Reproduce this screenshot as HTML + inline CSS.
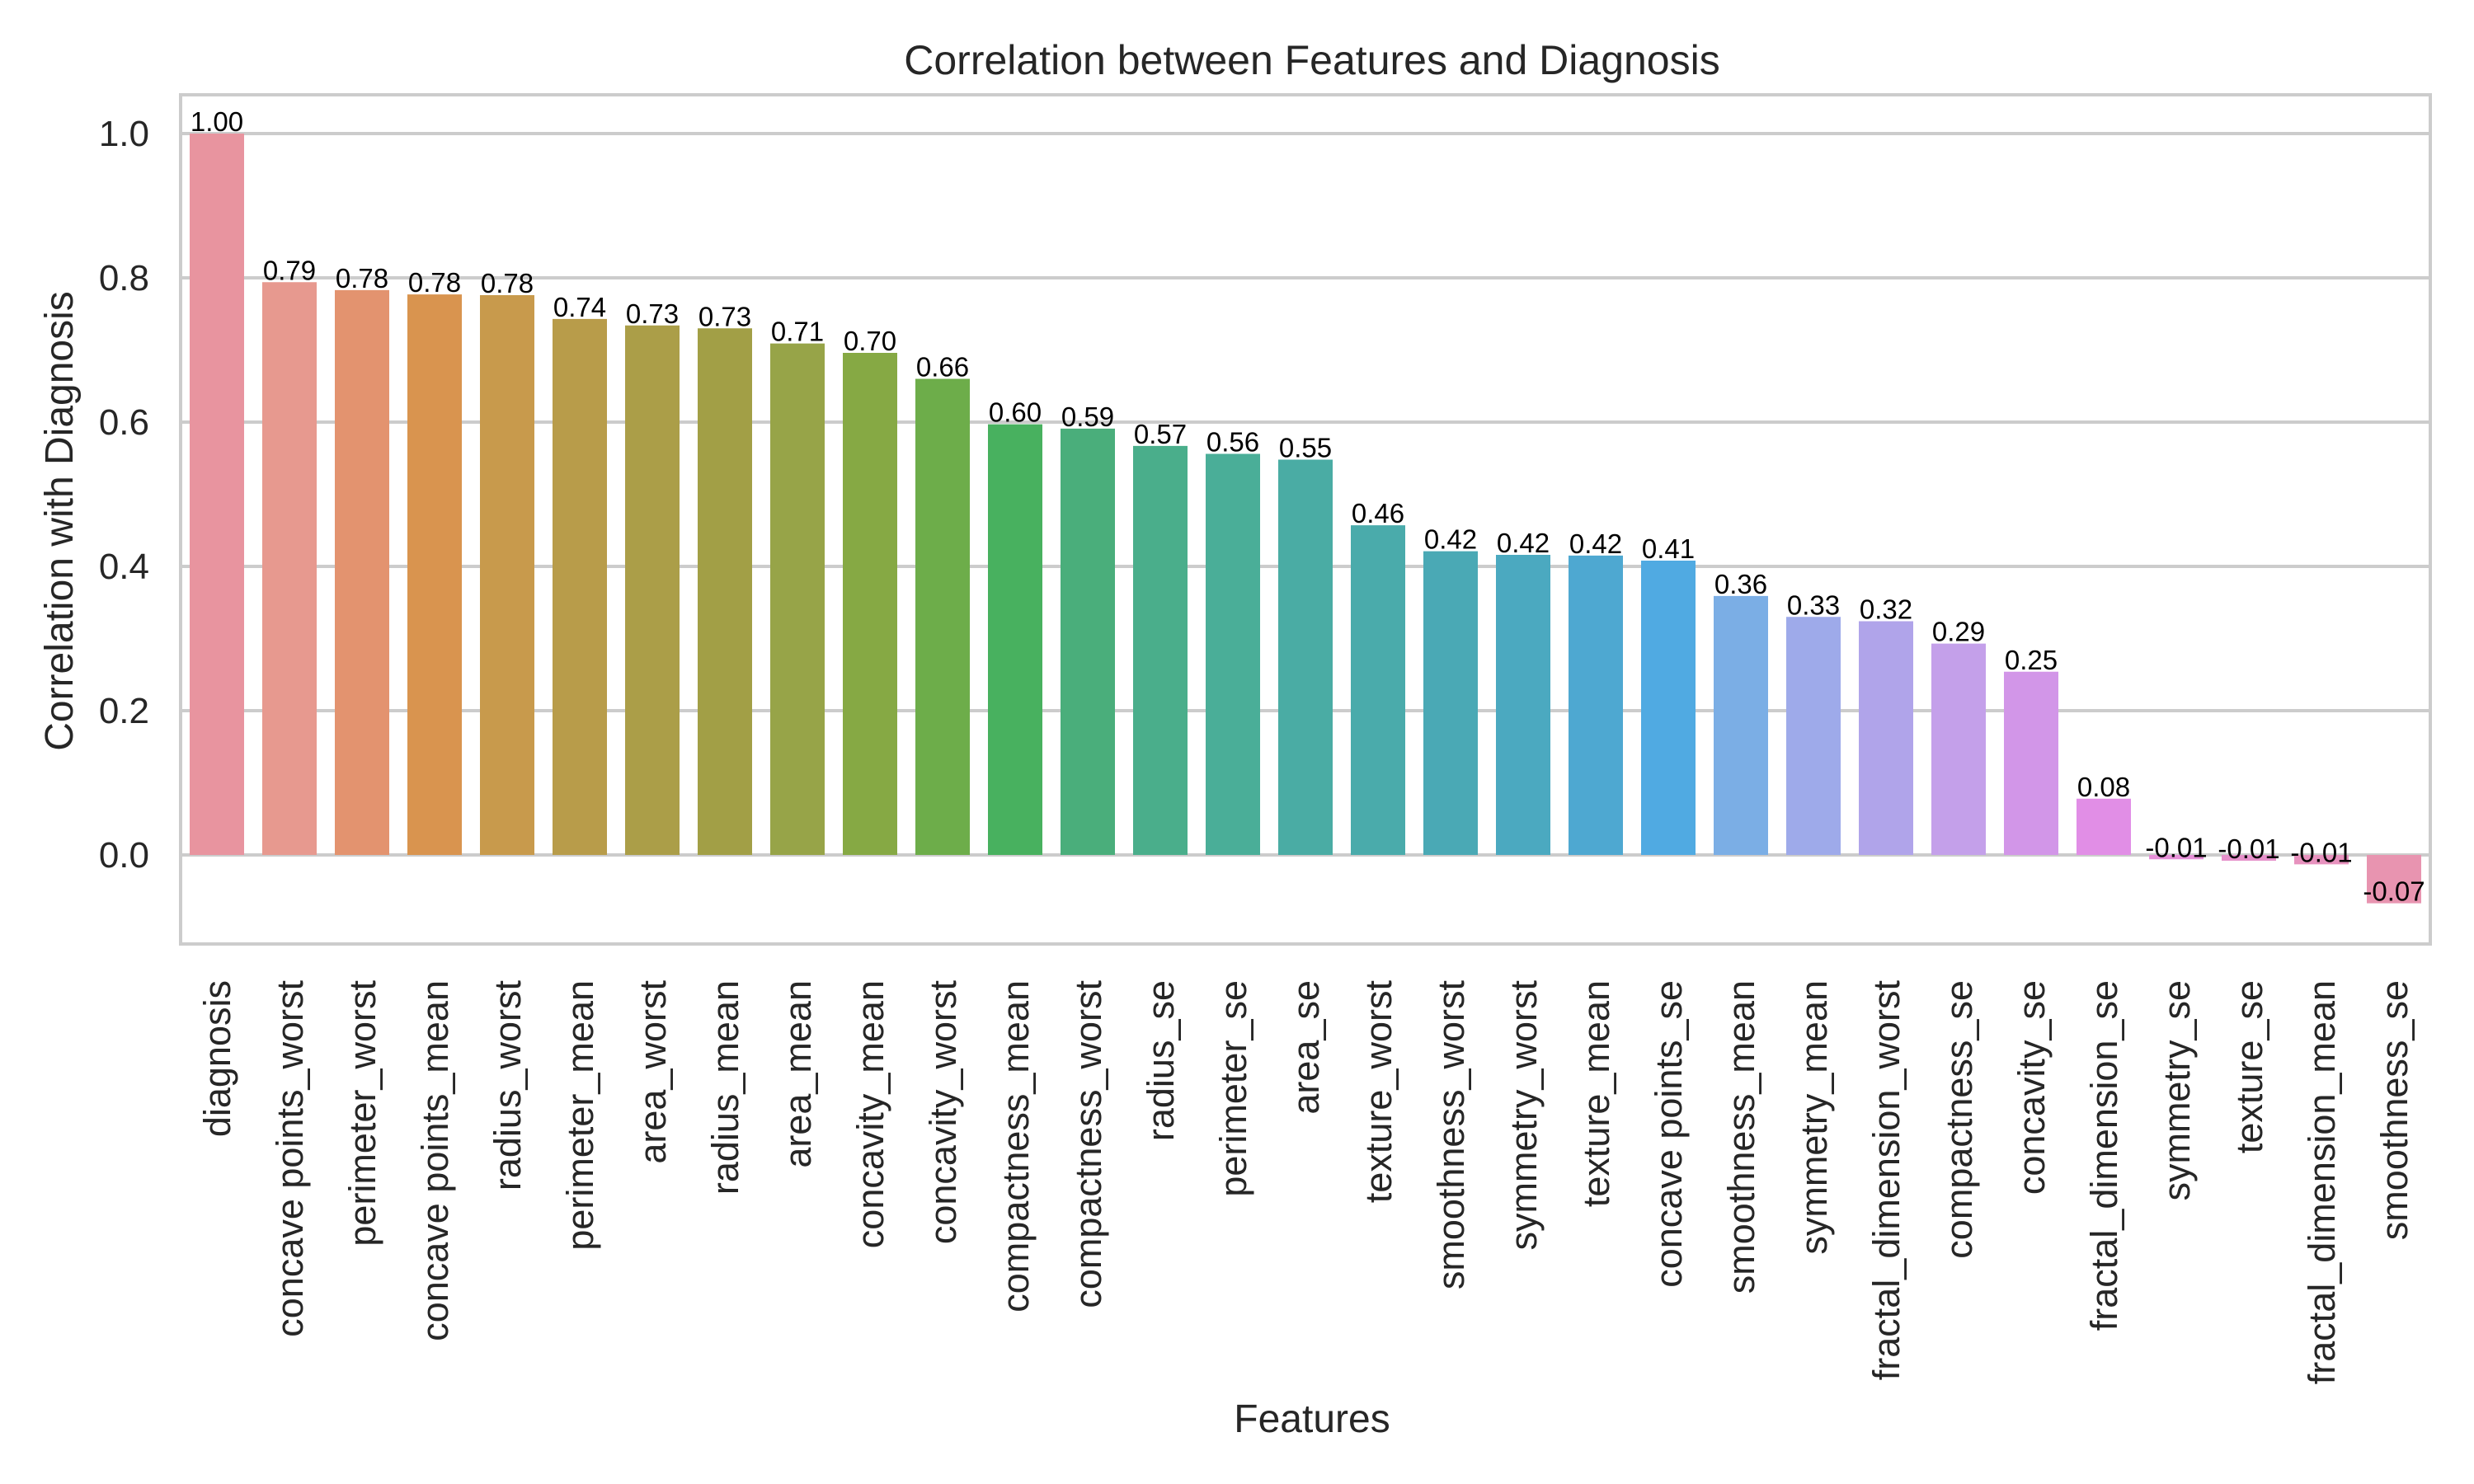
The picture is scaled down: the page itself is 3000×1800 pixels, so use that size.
<!DOCTYPE html>
<html><head><meta charset="utf-8"><style>
html,body{margin:0;padding:0;background:#fff;}
svg{display:block;font-family:"Liberation Sans",Arial,sans-serif;}
</style></head><body>
<svg id="chart" width="3000" height="1800" viewBox="0 0 3000 1800" xmlns="http://www.w3.org/2000/svg">
<rect x="0" y="0" width="3000" height="1800" fill="#fff"/>
<g id="grid"></g>
<g id="bars"></g>
<g id="annots"></g>
<rect x="219" y="115" width="2728" height="1030" fill="none" stroke="#cccccc" stroke-width="4"/>
<g id="yticks"></g>
<g id="xticks"></g>
<text x="1591" y="90" font-size="50" fill="#262626" text-anchor="middle">Correlation between Features and Diagnosis</text>
<text x="1591" y="1737" font-size="48" fill="#262626" text-anchor="middle">Features</text>
<text transform="translate(88,632) rotate(-90)" font-size="48" fill="#262626" text-anchor="middle">Correlation with Diagnosis</text>
</svg>
<script>
const categories = ["diagnosis","concave points_worst","perimeter_worst","concave points_mean","radius_worst","perimeter_mean","area_worst","radius_mean","area_mean","concavity_mean","concavity_worst","compactness_mean","compactness_worst","radius_se","perimeter_se","area_se","texture_worst","smoothness_worst","symmetry_worst","texture_mean","concave points_se","smoothness_mean","symmetry_mean","fractal_dimension_worst","compactness_se","concavity_se","fractal_dimension_se","symmetry_se","texture_se","fractal_dimension_mean","smoothness_se"];
const values = [1.00,0.794,0.783,0.777,0.776,0.743,0.734,0.730,0.709,0.696,0.660,0.597,0.591,0.567,0.556,0.548,0.457,0.421,0.416,0.415,0.408,0.359,0.330,0.324,0.293,0.254,0.078,-0.006,-0.008,-0.013,-0.067];
const valueLabels = ["1.00","0.79","0.78","0.78","0.78","0.74","0.73","0.73","0.71","0.70","0.66","0.60","0.59","0.57","0.56","0.55","0.46","0.42","0.42","0.42","0.41","0.36","0.33","0.32","0.29","0.25","0.08","-0.01","-0.01","-0.01","-0.07"];
const colors = ["#e8949f","#e7998f","#e3936f","#d9944f","#c89a4c","#b89c4a","#ab9e48","#a29f46","#97a448","#86a944","#6dad4a","#48b15f","#4aae7b","#4aae8b","#4aae98","#4aaca4","#4aabab","#4aa9b5","#4ba9c0","#4ea8d1","#50aae2","#7baee5","#9eaaea","#b0a4ea","#c4a0ea","#d296e8","#e18ee6","#e690d8","#e690ca","#e792be","#e894b0"];
const yTicks = [0.0,0.2,0.4,0.6,0.8,1.0];
const yTickLabels = ["0.0","0.2","0.4","0.6","0.8","1.0"];

const NS = "http://www.w3.org/2000/svg";
const X0 = 219, X1 = 2947, Y0PX = 1037, PXPER = 875;
const band = (X1 - X0) / categories.length;
function xCenter(i){ return X0 + (i + 0.5) * band; }
function yScale(v){ return Y0PX - v * PXPER; }
function mk(tag, attrs, parent){ const e = document.createElementNS(NS, tag); for (const k in attrs) e.setAttribute(k, attrs[k]); parent.appendChild(e); return e; }

const grid = document.getElementById('grid');
const yt = document.getElementById('yticks');
yTicks.forEach((t, i) => {
  const y = yScale(t);
  const l = mk('line', {x1: X0, x2: X1, y1: y, y2: y, stroke: '#cccccc', 'stroke-width': 4}, grid);
  
  
  const tx = mk('text', {x: 181, y: y + 15, 'font-size': 44, fill: '#262626', 'text-anchor': 'end'}, yt);
  tx.textContent = yTickLabels[i];
  
  
});

const bars = document.getElementById('bars');
const ann = document.getElementById('annots');
const xt = document.getElementById('xticks');
const bw = band * 0.75;
categories.forEach((c, i) => {
  const v = values[i];
  const cx = xCenter(i);
  const yTop = Math.min(yScale(v), yScale(0));
  const h = Math.abs(yScale(v) - yScale(0));
  const r = mk('rect', {x: cx - bw/2, y: yTop, width: bw, height: Math.max(h, 1), fill: colors[i]}, bars);
  
  
  const a = mk('text', {x: cx, y: yScale(v) - 3, 'font-size': 33, fill: '#000', 'text-anchor': 'middle'}, ann);
  a.textContent = valueLabels[i];
  
  
  const t = mk('text', {transform: 'translate(' + (cx + 16) + ',1189) rotate(-90)', 'font-size': 45, fill: '#262626', 'text-anchor': 'end'}, xt);
  t.textContent = c;
  
  
});
</script>
</body></html>
